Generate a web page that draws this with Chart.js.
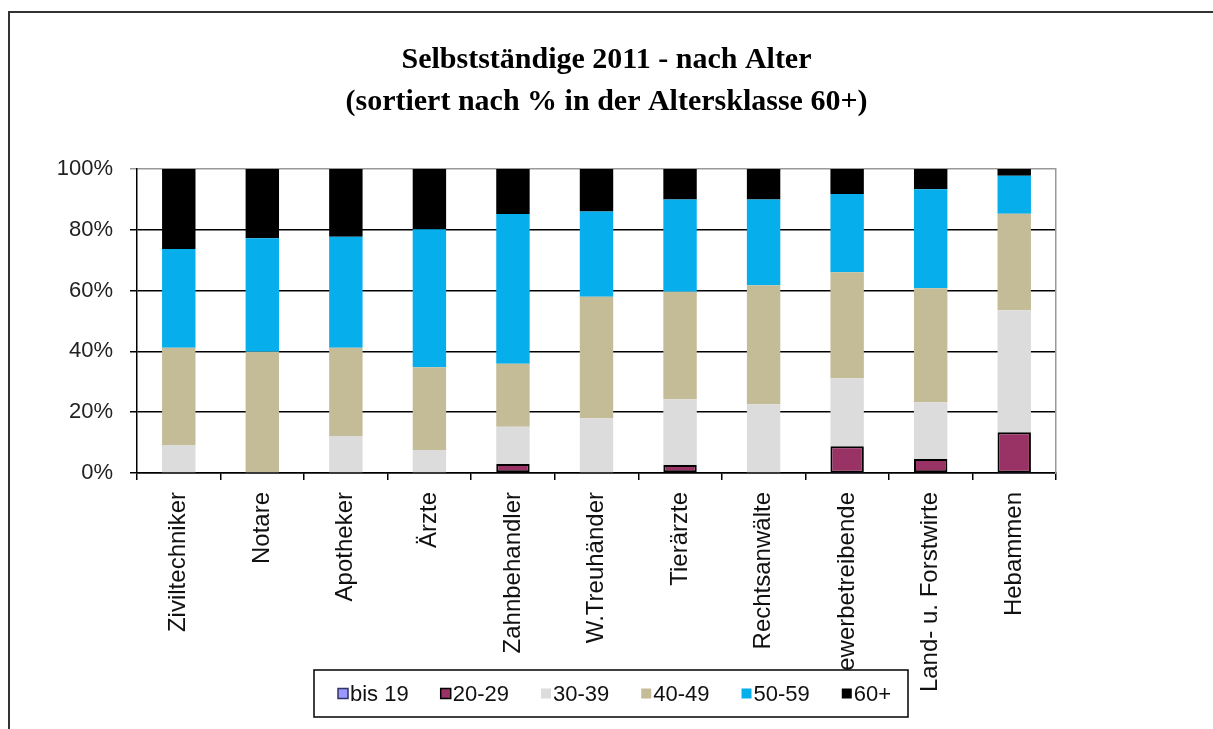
<!DOCTYPE html>
<html>
<head>
<meta charset="utf-8">
<script src="https://cdn.jsdelivr.net/npm/chart.js@4.4.1/dist/chart.umd.min.js"></script>
<style>
  body { margin: 0; background: #fff; }
  canvas { display: block; }
</style>
</head>
<body>
<canvas id="chart" width="1213" height="729"></canvas>
<script>
// Kategorien, sortiert nach Anteil 60+
const categories = ['Ziviltechniker', 'Notare', 'Apotheker', 'Ärzte', 'Zahnbehandler', 'W.Treuhänder',
    'Tierärzte', 'Rechtsanwälte', 'Gewerbetreibende', 'Land- u. Forstwirte', 'Hebammen'];

// Anteile in % je Altersklasse
const bis19   = [0,    0,    0,    0,    0,    0,    0,    0,    0.1,  0,    0.1];
const age2029 = [0,    0,    0,    0,    3.0,  0,    2.6,  0,    8.7,  4.6,  13.3];
const age3039 = [9.2,  0.3,  12.2, 7.6,  12.2, 18.0, 21.7, 22.6, 22.4, 18.7, 40.1];
const age4049 = [32.0, 39.6, 29.0, 27.2, 20.7, 40.0, 35.3, 39.2, 34.8, 37.5, 31.8];
const age5059 = [32.5, 37.3, 36.5, 45.4, 49.3, 28.0, 30.4, 28.2, 25.8, 32.5, 12.5];
const age60   = [26.3, 22.8, 22.3, 19.8, 14.8, 14.0, 10.0, 10.0, 8.2,  6.7,  2.2];

const seriesLabels = ['bis 19', '20-29', '30-39', '40-49', '50-59', '60+'];
const yTickValues = [0, 20, 40, 60, 80, 100];
const yTickLabels = ['0%', '20%', '40%', '60%', '80%', '100%'];
const titleLines = ['Selbstständige 2011 - nach Alter', '(sortiert nach % in der Altersklasse 60+)'];

const colors = ['#9999ff', '#993366', '#dcdcdc', '#c4bc96', '#06aeec', '#000000'];
const borders = ['#333366', '#000000', null, null, null, null];
const seriesData = [bis19, age2029, age3039, age4049, age5059, age60];

const datasets = seriesLabels.map((label, i) => ({
    label: label,
    data: seriesData[i],
    backgroundColor: colors[i],
    borderColor: borders[i] || colors[i],
    borderWidth: borders[i] ? 2 : 0,
    borderSkipped: false,
    barPercentage: 0.4,
    categoryPercentage: 1
}));

// Rahmen um das Diagramm
const framePlugin = {
    id: 'frame',
    beforeDraw(chart) {
        const ctx = chart.ctx;
        ctx.save();
        ctx.strokeStyle = '#333';
        ctx.lineWidth = 2;
        ctx.beginPath();
        ctx.moveTo(9, chart.height + 5);
        ctx.lineTo(9, 12);
        ctx.lineTo(chart.width + 5, 12);
        ctx.stroke();
        ctx.restore();
    }
};

// Legende in einer Box, überlappt die Achsenbeschriftung wie im Original
const legendPlugin = {
    id: 'boxLegend',
    afterDraw(chart) {
        const ctx = chart.ctx;
        ctx.save();
        const bx = 314, by = 670, bw = 594, bh = 47;
        ctx.fillStyle = '#fff';
        ctx.fillRect(bx, by, bw, bh);
        ctx.strokeStyle = '#000';
        ctx.lineWidth = 1.5;
        ctx.strokeRect(bx, by, bw, bh);

        ctx.font = '22px "Liberation Sans", Arial, sans-serif';
        ctx.textBaseline = 'middle';
        ctx.textAlign = 'left';
        let x = 338;
        const cy = by + bh / 2;
        chart.data.datasets.forEach((ds) => {
            ctx.fillStyle = ds.backgroundColor;
            ctx.fillRect(x, cy - 5, 10, 10);
            if (ds.borderWidth) {
                ctx.strokeStyle = ds.borderColor;
                ctx.lineWidth = 1.5;
                ctx.strokeRect(x, cy - 5, 10, 10);
            }
            ctx.fillStyle = '#111';
            ctx.fillText(ds.label, x + 12, cy + 1);
            x += 12 + ctx.measureText(ds.label).width + 32;
        });
        ctx.restore();
    }
};

new Chart(document.getElementById('chart'), {
    type: 'bar',
    data: {
        labels: categories,
        datasets: datasets
    },
    options: {
        responsive: false,
        animation: false,
        devicePixelRatio: 1,
        layout: { padding: 0 },
        plugins: {
            legend: { display: false },
            tooltip: { enabled: false },
            title: {
                display: true,
                text: titleLines,
                color: '#000',
                font: { family: '"Liberation Serif", "Times New Roman", serif', size: 30, weight: 'bold', lineHeight: 1.4 },
                padding: { top: 39, bottom: 46 }
            }
        },
        scales: {
            x: {
                stacked: true,
                afterFit(scale) { scale.height = 256; },
                grid: {
                    drawOnChartArea: false,
                    drawTicks: true,
                    tickLength: 7,
                    color: '#000',
                    lineWidth: 1.5
                },
                border: { color: '#000', width: 1.5 },
                ticks: {
                    autoSkip: false,
                    maxRotation: 90,
                    minRotation: 90,
                    padding: 12,
                    color: '#111',
                    font: { family: '"Liberation Sans", Arial, sans-serif', size: 24 }
                }
            },
            y: {
                stacked: true,
                min: 0,
                max: 100,
                afterFit(scale) { scale.width = 137; },
                afterBuildTicks(scale) { scale.ticks = yTickValues.map(v => ({ value: v })); },
                grid: {
                    color: ctx => (ctx.tick && ctx.tick.value === 100) ? '#999' : '#000',
                    lineWidth: 1.5,
                    tickLength: 7
                },
                border: { color: '#000', width: 1.5 },
                ticks: {
                    padding: 17,
                    color: '#222',
                    font: { family: '"Liberation Sans", Arial, sans-serif', size: 22 },
                    callback: (v) => yTickLabels[yTickValues.indexOf(v)]
                }
            },
            // leere rechte Achse: grauer Rand der Zeichenfläche + Platz rechts
            yRight: {
                position: 'right',
                min: 0,
                max: 100,
                afterFit(scale) { scale.width = 157; },
                grid: { drawOnChartArea: false, drawTicks: false },
                border: { color: '#999', width: 1.5 },
                ticks: { display: false }
            }
        }
    },
    plugins: [framePlugin, legendPlugin]
});
</script>
</body>
</html>
